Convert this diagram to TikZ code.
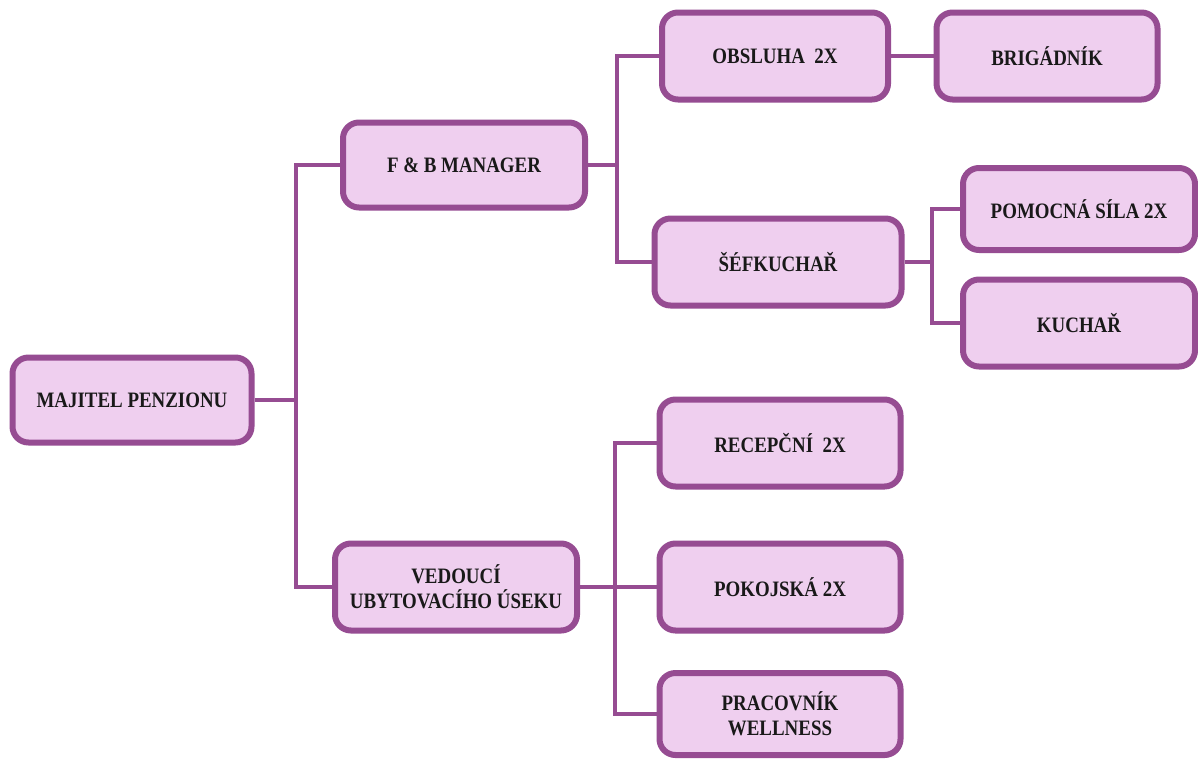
\documentclass[tikz,border=0pt]{standalone}
\usepackage{fontspec}
\setmainfont{Liberation Serif}[FakeStretch=0.86]
\definecolor{boxline}{RGB}{150,76,146}
\definecolor{boxfill}{RGB}{239,207,239}
\begin{document}
\begin{tikzpicture}[x=1pt,y=-1pt,
  orgbox/.style={draw=boxline, fill=boxfill, line width=6pt, rounded corners=16pt,
    align=center, inner sep=2pt, font=\fontsize{22}{25}\selectfont\bfseries,
    text=black!90},
  link/.style={draw=boxline, line width=4pt}]
\useasboundingbox[fill=white] (0,0) rectangle (1198,758);

\node[orgbox, minimum width=239pt, minimum height=85pt] (maj) at (132,400) {MAJITEL PENZIONU};
\node[orgbox, minimum width=242pt, minimum height=85pt] (fb) at (464,165) {F \& B MANAGER};
\node[orgbox, minimum width=242pt, minimum height=87pt] (ved) at (456,587) {VEDOUCÍ\\UBYTOVACÍHO ÚSEKU};
\node[orgbox, minimum width=226pt, minimum height=87pt] (obs) at (775,56) {OBSLUHA\ \ 2X};
\node[orgbox, minimum width=221pt, minimum height=87pt] (brig) at (1047,56) {BRIGÁDNÍK};
\node[orgbox, minimum width=247pt, minimum height=87pt] (sef) at (778,262) {ŠÉFKUCHAŘ};
\node[orgbox, minimum width=232pt, minimum height=82pt] (pom) at (1079,209) {POMOCNÁ SÍLA 2X};
\node[orgbox, minimum width=232pt, minimum height=87pt] (kuch) at (1079,323) {KUCHAŘ};
\node[orgbox, minimum width=241pt, minimum height=87pt] (rec) at (780,443) {RECEPČNÍ\ \ 2X};
\node[orgbox, minimum width=241pt, minimum height=87pt] (pok) at (780,587) {POKOJSKÁ 2X};
\node[orgbox, minimum width=241pt, minimum height=82pt] (prac) at (780,714) {PRACOVNÍK\\WELLNESS};

\coordinate (j1) at (296,400);
\coordinate (j2) at (617,165);
\coordinate (j3) at (932,262);
\coordinate (j4) at (615,587);

\draw[link] (maj.east) -- (j1);
\draw[link] (j1) |- (fb.west);
\draw[link] (j1) |- (ved.west);
\draw[link] (fb.east) -- (j2);
\draw[link] (j2) |- (obs.west);
\draw[link] (j2) |- (sef.west);
\draw[link] (obs.east) -- (brig.west);
\draw[link] (sef.east) -- (j3);
\draw[link] (j3) |- (pom.west);
\draw[link] (j3) |- (kuch.west);
\draw[link] (ved.east) -- (j4);
\draw[link] (j4) |- (rec.west);
\draw[link] (j4) |- (pok.west);
\draw[link] (j4) |- (prac.west);
\end{tikzpicture}
\end{document}
